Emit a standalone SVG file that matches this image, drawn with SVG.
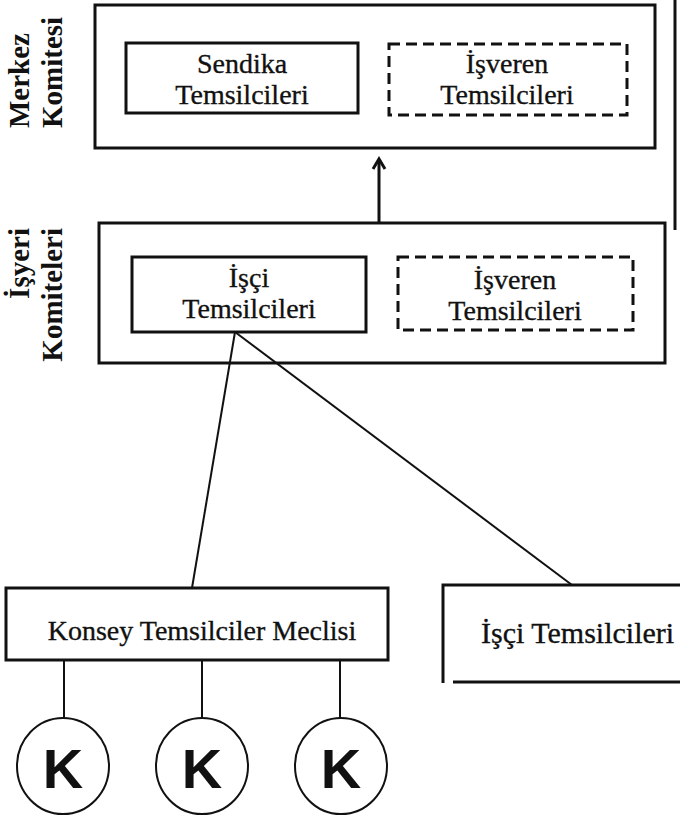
<svg xmlns="http://www.w3.org/2000/svg" width="680" height="819" viewBox="0 0 680 819">
<style>
.box{fill:none;stroke:#111;stroke-width:3}
.dash{fill:none;stroke:#111;stroke-width:3;stroke-dasharray:11 6}
.ln{fill:none;stroke:#111;stroke-width:2}
.t{font-family:"Liberation Serif","Times New Roman",serif;font-size:28px;fill:#111;stroke:#111;stroke-width:0.35;text-anchor:middle}
.lab{font-family:"Liberation Serif","Times New Roman",serif;font-size:29px;font-weight:bold;fill:#111}
.k{font-family:"Liberation Sans",Arial,sans-serif;font-size:56px;font-weight:bold;fill:#111;text-anchor:middle}
</style>
<rect width="680" height="819" fill="#fff"/>
<g id="merkez-label">
<text class="lab" transform="translate(29,128) rotate(-90)">Merkez</text>
<text class="lab" transform="translate(62,128) rotate(-90)">Komitesi</text>
</g>
<g id="merkez">
<rect class="box" x="95" y="5" width="560" height="143"/>
</g>
<g id="sendika">
<rect class="box" x="126" y="43" width="232" height="70"/>
<text class="t" x="242" y="73">Sendika</text>
<text class="t" x="242" y="104">Temsilcileri</text>
</g>
<g id="isveren1">
<rect class="dash" x="389" y="44" width="238" height="71"/>
<text class="t" x="507" y="73">İşveren</text>
<text class="t" x="507" y="104">Temsilcileri</text>
</g>
<g id="isyeri-label">
<text class="lab" text-anchor="end" transform="translate(29,228) rotate(-90)">İşyeri</text>
<text class="lab" text-anchor="end" transform="translate(62,228) rotate(-90)">Komiteleri</text>
</g>
<g id="isyeri">
<rect class="box" x="99" y="223" width="566" height="140"/>
</g>
<g id="isci1">
<rect class="box" x="132" y="257" width="234" height="75"/>
<text class="t" x="249" y="287">İşçi</text>
<text class="t" x="249" y="318">Temsilcileri</text>
</g>
<g id="isveren2">
<rect class="dash" x="398" y="257" width="235" height="73"/>
<text class="t" x="515" y="289">İşveren</text>
<text class="t" x="515" y="320">Temsilcileri</text>
</g>
<g id="konsey">
<rect class="box" x="6" y="588" width="382" height="72"/>
<text class="t" x="202" y="640">Konsey Temsilciler Meclisi</text>
</g>
<g id="isci2">
<path class="box" d="M443 683 V585 H680 M453 682 H680"/>
<text class="t" x="481" y="643" style="text-anchor:start;font-size:30px">İşçi Temsilcileri</text>
</g>
<g id="k1">
<ellipse class="ln" cx="63" cy="766" rx="46" ry="48"/>
<text class="k" x="63" y="788">K</text>
</g>
<g id="k2">
<ellipse class="ln" cx="202" cy="766" rx="46" ry="48"/>
<text class="k" x="202" y="788">K</text>
</g>
<g id="k3">
<ellipse class="ln" cx="341" cy="766" rx="46" ry="48"/>
<text class="k" x="341" y="788">K</text>
</g>
<g id="connectors">
<line class="box" x1="379" y1="222" x2="379" y2="160"/>
<path class="box" d="M373 169 L379 159 L385 169" stroke-linejoin="miter"/>
<line class="ln" x1="235" y1="332" x2="192" y2="588"/>
<line class="ln" x1="235" y1="332" x2="572" y2="585"/>
<line class="ln" x1="64" y1="660" x2="64" y2="718"/>
<line class="ln" x1="202" y1="660" x2="202" y2="718"/>
<line class="ln" x1="340" y1="660" x2="340" y2="718"/>
<line class="box" x1="675" y1="0" x2="675" y2="230"/>
</g>
</svg>
